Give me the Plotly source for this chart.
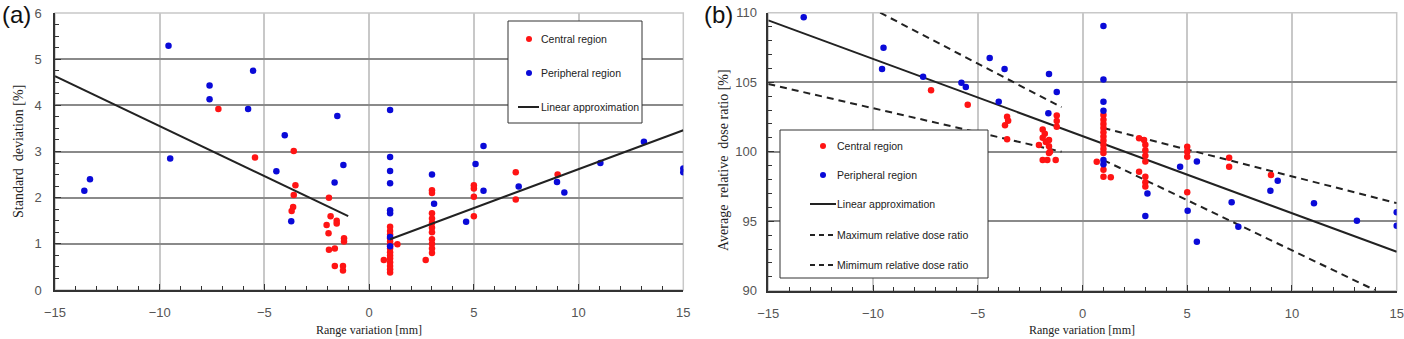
import plotly.graph_objects as go

W, H = 1404, 339

# ---------------- Panel (a) data: standard deviation [%] ----------------
a_central_x = [-7.2, -5.45, -3.6, -3.52, -3.6, -3.63, -3.7,
               -1.92, -1.84, -1.55, -1.55, -2.03, -1.94, -1.2, -1.2, -1.92, -1.64, -1.64, -1.25, -1.25,
               1, 1, 1, 1, 1, 1, 1, 1, 1, 1, 1, 1, 1, 1, 1.35, 0.7,
               3, 3, 3, 3, 3, 3, 3, 3, 3, 3, 3, 2.7,
               5, 5, 5, 5, 7, 7, 9]
a_central_y = [3.92, 2.87, 3.01, 2.27, 2.06, 1.80, 1.71,
               2.0, 1.6, 1.5, 1.44, 1.41, 1.23, 1.12, 1.05, 0.87, 0.9, 0.52, 0.52, 0.42,
               1.37, 1.28, 1.2, 1.12, 1.05, 0.98, 0.9, 0.82, 0.75, 0.68, 0.6, 0.52, 0.45, 0.38, 0.99, 0.65,
               2.16, 2.1, 1.66, 1.55, 1.45, 1.35, 1.25, 1.1, 1.0, 0.9, 0.8, 0.65,
               2.27, 2.2, 2.02, 1.6, 2.55, 1.96, 2.5]
a_periph_x = [-13.6, -13.33, -9.58, -9.5, -7.62, -7.62, -5.78, -5.54, -4.43, -4.03, -3.72, -1.65, -1.52, -1.23,
              1, 1, 1, 1, 1, 1, 1, 1,
              3, 3.1, 4.63, 5.08, 5.46, 5.46, 7.14, 8.97, 9.32, 11.04, 13.12, 15.0, 15.0]
a_periph_y = [2.15, 2.4, 5.29, 2.85, 4.43, 4.13, 3.92, 4.75, 2.57, 3.35, 1.49, 2.33, 3.77, 2.71,
              3.9, 2.88, 2.58, 2.31, 1.73, 1.66, 1.15, 0.95,
              2.5, 1.87, 1.48, 2.73, 3.12, 2.15, 2.24, 2.34, 2.11, 2.75, 3.21, 2.63, 2.55]
a_fit_left_x = [-15, -1]
a_fit_left_y = [4.63, 1.6]
a_fit_right_x = [1, 15]
a_fit_right_y = [1.1, 3.46]

# ---------------- Panel (b) data: average relative dose ratio [%] ----------------
b_central_x = [-7.23, -5.48, -3.6, -3.55, -3.7, -3.6,
               -1.23, -1.23, -1.23, -1.9, -1.8, -1.9, -1.75, -2.08, -1.6, -1.6, -1.55, -1.6, -1.9, -1.68, -1.28,
               1, 1, 1, 1, 1, 1, 1, 1, 1, 1, 1, 1, 1.35, 0.68,
               2.7, 2.94, 3, 3, 3, 3, 2.7, 3, 3, 3,
               5, 5, 5, 5, 7, 7, 9]
b_central_y = [104.42, 103.38, 102.52, 102.23, 101.9, 100.89,
               102.6, 102.2, 101.8, 101.6, 101.3, 101.0, 100.7, 100.48, 100.84, 100.4, 100.0, 99.9, 99.4, 99.4, 99.4,
               102.64, 102.3, 102.0, 101.7, 101.4, 101.1, 100.8, 100.5, 100.2, 99.9, 98.7, 98.2, 98.16, 99.28,
               100.96, 100.84, 100.5, 100.1, 99.7, 99.3, 98.56, 98.2, 97.8, 97.5,
               100.36, 100.0, 99.64, 97.08, 99.57, 98.92, 98.32]
b_periph_x = [-13.31, -9.5, -9.57, -7.61, -5.78, -5.57, -4.43, -3.72, -4.0, -1.6, -1.23, -1.63,
              1, 1, 1, 1, 1, 1,
              3.1, 3.0, 4.66, 5.46, 5.02, 5.46, 7.12, 7.44, 8.97, 9.32, 11.05, 13.1, 15.0, 15.0]
b_periph_y = [109.67, 107.48, 105.95, 105.4, 104.96, 104.65, 106.74, 105.95, 103.6, 105.59, 104.29, 102.76,
              109.04, 105.2, 103.6, 102.95, 99.4, 99.1,
              97.0, 95.37, 98.92, 99.3, 95.76, 93.53, 96.36, 94.6, 97.19, 97.91, 96.29, 95.04, 95.64, 94.68]
b_fit_x = [-15, 15]
b_fit_y = [109.45, 92.8]
b_max_left_x = [-9.66, -1]
b_max_left_y = [110.0, 103.2]
b_max_right_x = [1, 15]
b_max_right_y = [101.7, 96.3]
b_min_left_x = [-15, -1]
b_min_left_y = [104.87, 100.0]
b_min_right_x = [1, 13.95]
b_min_right_y = [99.4, 90.05]

RED = "#ff1414"
BLUE = "#0a0ad8"
TICKFONT = dict(family="Liberation Sans Narrow, Liberation Sans, Arial", size=13, color="#555555")
SERIF = "Liberation Serif, Times New Roman, serif"
LEGFONT = dict(family="Liberation Sans Narrow, Liberation Sans, Arial", size=10.5, color="#222222")

fig = go.Figure()

def pts(x, y, color, xa, ya):
    fig.add_trace(go.Scatter(x=x, y=y, mode="markers", xaxis=xa, yaxis=ya,
                             marker=dict(color=color, size=6.5, line=dict(width=0)),
                             showlegend=False, hoverinfo="skip"))

def line(x, y, xa, ya, dash=None):
    fig.add_trace(go.Scatter(x=x, y=y, mode="lines", xaxis=xa, yaxis=ya,
                             line=dict(color="#222222", width=2, dash=dash),
                             showlegend=False, hoverinfo="skip"))

# Panel a
pts(a_central_x, a_central_y, RED, "x", "y")
pts(a_periph_x, a_periph_y, BLUE, "x", "y")
line(a_fit_left_x, a_fit_left_y, "x", "y")
line(a_fit_right_x, a_fit_right_y, "x", "y")

# Panel b
line(b_max_left_x, b_max_left_y, "x2", "y2", dash="7px,5px")
line(b_max_right_x, b_max_right_y, "x2", "y2", dash="7px,5px")
line(b_min_left_x, b_min_left_y, "x2", "y2", dash="7px,5px")
line(b_min_right_x, b_min_right_y, "x2", "y2", dash="7px,5px")
line(b_fit_x, b_fit_y, "x2", "y2")
pts(b_central_x, b_central_y, RED, "x2", "y2")
pts(b_periph_x, b_periph_y, BLUE, "x2", "y2")

def px_x(p):
    return p / W

def px_y(p):
    return 1 - p / H

ax_common = dict(showline=True, linecolor="#333333", linewidth=1.5, mirror=False,
                 ticks="inside", ticklen=6, tickcolor="#333333", tickwidth=1,
                 showgrid=True, zeroline=False, tickfont=TICKFONT, fixedrange=True)

yd = [px_y(290), px_y(13)]
fig.update_layout(
    width=W, height=H, margin=dict(l=0, r=0, t=0, b=0, autoexpand=False), autosize=False,
    paper_bgcolor="white", plot_bgcolor="white",
    xaxis=dict(domain=[px_x(55), px_x(683.3)], range=[-15, 15], dtick=5, tick0=-15,
               gridcolor="#c8c8c8", gridwidth=1.5,
               minor=dict(dtick=1, ticks="inside", ticklen=4, tickcolor="#333333", showgrid=False),
               ticklabelstandoff=10, anchor="y", **ax_common),
    yaxis=dict(domain=yd, range=[0, 6], dtick=1,
               gridcolor="#8a8a8a", gridwidth=1.5,
               minor=dict(dtick=0.25, ticks="inside", ticklen=4, tickcolor="#333333", showgrid=False),
               ticklabelstandoff=9, anchor="x", **ax_common),
    xaxis2=dict(domain=[px_x(768.3), px_x(1396.7)], range=[-15, 15], dtick=5, tick0=-15,
                gridcolor="#c8c8c8", gridwidth=1.5,
                minor=dict(dtick=1, ticks="inside", ticklen=4, tickcolor="#333333", showgrid=False),
                ticklabelstandoff=10, anchor="y2", **ax_common),
    yaxis2=dict(domain=[px_y(290.7), px_y(12.7)], range=[90, 110], dtick=5,
                gridcolor="#8a8a8a", gridwidth=1.5,
                minor=dict(dtick=1, ticks="inside", ticklen=4, tickcolor="#333333", showgrid=False),
                ticklabelstandoff=7, anchor="x2", **ax_common),
)

shapes = []
annos = []
# light frames (top/right borders)
for xr, yr in (("x", "y"), ("x2", "y2")):
    shapes.append(dict(type="rect", xref=f"{xr} domain", yref=f"{yr} domain", x0=0, x1=1, y0=0, y1=1,
                       line=dict(color="#c8c8c8", width=1.5), layer="below"))

def dot(cx, cy, color):
    r = 3
    shapes.append(dict(type="circle", xref="paper", yref="paper",
                       x0=px_x(cx - r), x1=px_x(cx + r), y0=px_y(cy + r), y1=px_y(cy - r),
                       fillcolor=color, line=dict(width=0), layer="above"))

def seg(x0, x1, y, dash=None):
    shapes.append(dict(type="line", xref="paper", yref="paper", x0=px_x(x0), x1=px_x(x1),
                       y0=px_y(y), y1=px_y(y), line=dict(color="#222222", width=2, dash=dash), layer="above"))

def text(x, y, s, font=LEGFONT, xanchor="left", angle=0):
    annos.append(dict(text=s, x=px_x(x), y=px_y(y), xref="paper", yref="paper", showarrow=False,
                      xanchor=xanchor, yanchor="middle", font=font, textangle=angle))

# Legend (a)
shapes.append(dict(type="rect", xref="paper", yref="paper", x0=px_x(508), x1=px_x(642),
                   y0=px_y(123), y1=px_y(21), fillcolor="white", line=dict(color="#333333", width=1),
                   layer="above"))
dot(529, 39, RED)
text(539, 39, "Central region")
dot(529, 73, BLUE)
text(539, 73, "Peripheral region")
seg(518, 539, 107)
text(539, 107, "Linear approximation")

# Legend (b)
shapes.append(dict(type="rect", xref="paper", yref="paper", x0=px_x(780), x1=px_x(988),
                   y0=px_y(278), y1=px_y(130), fillcolor="white", line=dict(color="#333333", width=1),
                   layer="above"))
dot(823, 146, RED)
text(835, 146, "Central region")
dot(823, 175, BLUE)
text(835, 175, "Peripheral region")
seg(810, 836, 204)
text(835, 204, "Linear approximation")
seg(810, 836, 235, dash="5px,4px")
text(835, 235, "Maximum relative dose ratio")
seg(810, 836, 265, dash="5px,4px")
text(835, 265, "Mimimum relative dose ratio")

# Axis titles
text(369, 330, "Range variation [mm]", font=dict(family=SERIF, size=12, color="#222222"), xanchor="center")
text(1082, 330, "Range variation [mm]", font=dict(family=SERIF, size=12, color="#222222"), xanchor="center")
text(18, 152, "Standard  deviation [%]", font=dict(family=SERIF, size=14, color="#222222"),
     xanchor="center", angle=-90)
text(723, 160, "Average  relative  dose ratio [%]", font=dict(family=SERIF, size=14, color="#222222"),
     xanchor="center", angle=-90)

# Panel labels
text(0, 15, "(a)", font=dict(family="Liberation Sans, Arial", size=24, color="#111111"), xanchor="left")
text(735, 15, "(b)", font=dict(family="Liberation Sans, Arial", size=24, color="#111111"), xanchor="right")

fig.update_layout(shapes=shapes, annotations=annos)
fig.write_html("out.html")
